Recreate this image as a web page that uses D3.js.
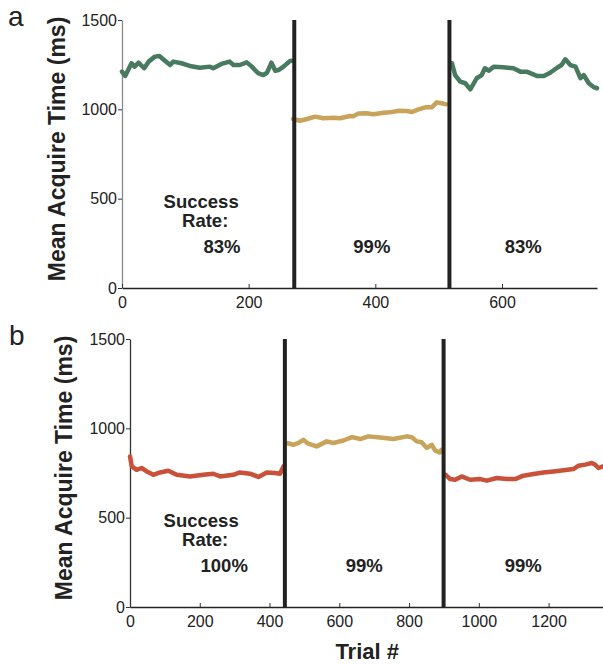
<!DOCTYPE html>
<html>
<head>
<meta charset="utf-8">
<script src="https://cdn.jsdelivr.net/npm/d3@7"></script>
<style>
  body { margin: 0; background: #fff; }
  svg { font-family: "Liberation Sans", Arial, Helvetica, sans-serif; }
</style>
</head>
<body>
<div id="vis-container"></div>
<script>
// ---- data (trial #, mean acquire time in ms) ----
const aBlock1 = [[0,1211],[5,1187],[15,1258],[20,1239],[26,1261],[35,1230],[42,1267],[52,1295],[59,1298],[65,1280],
  [76,1248],[81,1267],[94,1258],[107,1243],[123,1233],[139,1239],[144,1230],[157,1254],[170,1267],[176,1248],
  [186,1248],[197,1263],[205,1239],[215,1202],[223,1192],[229,1205],[236,1261],[242,1216],[247,1220],[255,1239],
  [265,1270],[268,1272]];
const aBlock2 = [[270,946],[281,936],[292,946],[305,959],[318,950],[334,953],[344,950],[360,963],[365,961],[373,976],
  [386,978],[397,972],[413,981],[423,983],[437,992],[450,991],[458,985],[468,1000],[479,1011],[489,1011],
  [497,1039],[505,1034],[512,1028]];
const aBlock3 = [[521,1258],[526,1192],[534,1155],[542,1146],[550,1112],[560,1174],[568,1192],[573,1230],[579,1216],
  [587,1239],[602,1235],[618,1230],[629,1211],[639,1211],[655,1187],[666,1187],[676,1205],[687,1233],[694,1248],
  [700,1280],[708,1248],[716,1239],[724,1174],[729,1192],[737,1146],[745,1124],[750,1118]];

const bBlock1 = [[0,843],[5,787],[19,768],[33,778],[48,759],[67,740],[86,753],[110,763],[134,740],[172,731],
  [210,740],[239,746],[258,731],[296,740],[315,753],[344,746],[368,728],[392,753],[416,750],[430,746],[440,787]];
const bBlock2 = [[449,918],[468,908],[483,918],[497,936],[511,914],[535,899],[564,927],[583,918],[612,932],[636,951],
  [660,940],[683,955],[717,949],[755,940],[794,955],[808,950],[822,927],[836,922],[851,890],[865,908],
  [875,875],[888,865],[893,880]];
const bBlock3 = [[905,740],[918,716],[932,712],[951,731],[975,712],[1004,716],[1023,707],[1051,722],[1080,716],
  [1104,716],[1128,735],[1157,744],[1185,753],[1214,759],[1243,765],[1271,772],[1286,791],[1305,797],[1324,806],
  [1333,797],[1343,778],[1356,787]];

const aSwitches = [272, 517];
const bSwitches = [444, 899];
const aRates = ["83%", "99%", "83%"];
const bRates = ["100%", "99%", "99%"];
const yTicks = [0, 500, 1000, 1500];
const aXTicks = [0, 200, 400, 600];
const bXTicks = [0, 200, 400, 600, 800, 1000, 1200];

const green = "#487a5f", gold = "#c9a35a", red = "#c9513a";

const W = 603, H = 664;
const svg = d3.select("#vis-container").append("svg")
  .attr("width", W).attr("height", H);

function drawPanel(opt) {
  const x = d3.scaleLinear().domain(opt.xDomain).range([opt.left, opt.right]);
  const y = d3.scaleLinear().domain([0, 1500]).range([opt.bottom, opt.top]);
  const g = svg.append("g");

  // y axis (ticks outward)
  const gy = g.append("g")
    .attr("transform", `translate(${opt.left},0)`)
    .call(d3.axisLeft(y).tickValues(yTicks).tickFormat(d3.format("d"))
      .tickSizeInner(4).tickSizeOuter(0).tickPadding(1));
  gy.select(".domain").attr("stroke", opt.yAxisColor).attr("stroke-width", 1.3);
  gy.selectAll(".tick line").attr("stroke", "#333");
  gy.selectAll("text").attr("font-size", 16).attr("fill", "#222");

  // x axis (ticks inward)
  const gx = g.append("g")
    .attr("transform", `translate(0,${opt.bottom})`)
    .call(d3.axisBottom(x).tickValues(opt.xTicks).tickFormat(d3.format("d"))
      .tickSizeInner(-4).tickSizeOuter(0).tickPadding(9));
  gx.select(".domain").attr("stroke", "#222").attr("stroke-width", 1.5);
  gx.selectAll(".tick line").attr("stroke", "#333");
  gx.selectAll("text").attr("font-size", 16).attr("fill", "#222");

  // data lines
  const line = d3.line().x(d => x(d[0])).y(d => y(d[1]));
  opt.series.forEach(s => {
    g.append("path").datum(s.data)
      .attr("fill", "none").attr("stroke", s.color)
      .attr("stroke-width", 4.5).attr("stroke-linejoin", "round").attr("stroke-linecap", "round")
      .attr("d", line);
  });

  // block switch markers
  g.selectAll(".switch").data(opt.switches).enter().append("line")
    .attr("x1", d => x(d)).attr("x2", d => x(d))
    .attr("y1", opt.top).attr("y2", opt.bottom)
    .attr("stroke", "#222").attr("stroke-width", 4);

  // success rates
  const bounds = [opt.xDomain[0], ...opt.switches, opt.xDomain[1]];
  opt.rates.forEach((r, i) => {
    const cx = i === 0 ? x(opt.firstRateX) : x((bounds[i] + bounds[i + 1]) / 2);
    g.append("text").attr("x", cx).attr("y", opt.rateY)
      .attr("text-anchor", "middle").attr("font-size", 18.5).attr("font-weight", "bold")
      .attr("fill", "#222").text(r);
  });
  g.append("text").attr("x", x(opt.labelX)).attr("y", opt.rateY - 45)
    .attr("text-anchor", "middle").attr("font-size", 18.5).attr("font-weight", "bold")
    .attr("fill", "#222").text("Success");
  g.append("text").attr("x", x(opt.labelX) + 4).attr("y", opt.rateY - 26)
    .attr("text-anchor", "middle").attr("font-size", 18.5).attr("font-weight", "bold")
    .attr("fill", "#222").text("Rate:");

  // y label
  g.append("text")
    .attr("transform", `translate(${opt.left - opt.labelOffset},${(opt.top + opt.bottom) / 2 - 5}) rotate(-90)`)
    .attr("text-anchor", "middle").attr("font-size", 23).attr("font-weight", "bold")
    .attr("fill", "#222").text("Mean Acquire Time (ms)");

  // panel letter
  g.append("text").attr("x", opt.letterX).attr("y", opt.letterY)
    .attr("font-size", 28).attr("fill", "#222").text(opt.letter);

  return x;
}

drawPanel({
  letter: "a", letterX: 8, letterY: 26,
  left: 122, right: 597, top: 20, bottom: 288, labelOffset: 57,
  xDomain: [0, 750], xTicks: aXTicks, yAxisColor: "#8a8a8a",
  series: [{ data: aBlock1, color: green }, { data: aBlock2, color: gold }, { data: aBlock3, color: green }],
  switches: aSwitches, rates: aRates, firstRateX: 158, labelX: 125, rateY: 253
});

const xb = drawPanel({
  letter: "b", letterX: 9, letterY: 345,
  left: 130, right: 603, top: 339, bottom: 607, labelOffset: 58,
  xDomain: [0, 1356], xTicks: bXTicks, yAxisColor: "#333",
  series: [{ data: bBlock1, color: red }, { data: bBlock2, color: gold }, { data: bBlock3, color: red }],
  switches: bSwitches, rates: bRates, firstRateX: 270, labelX: 204, rateY: 572
});

svg.append("text").attr("x", xb(680)).attr("y", 659)
  .attr("text-anchor", "middle").attr("font-size", 22).attr("font-weight", "bold")
  .attr("fill", "#222").text("Trial #");
</script>
</body>
</html>
